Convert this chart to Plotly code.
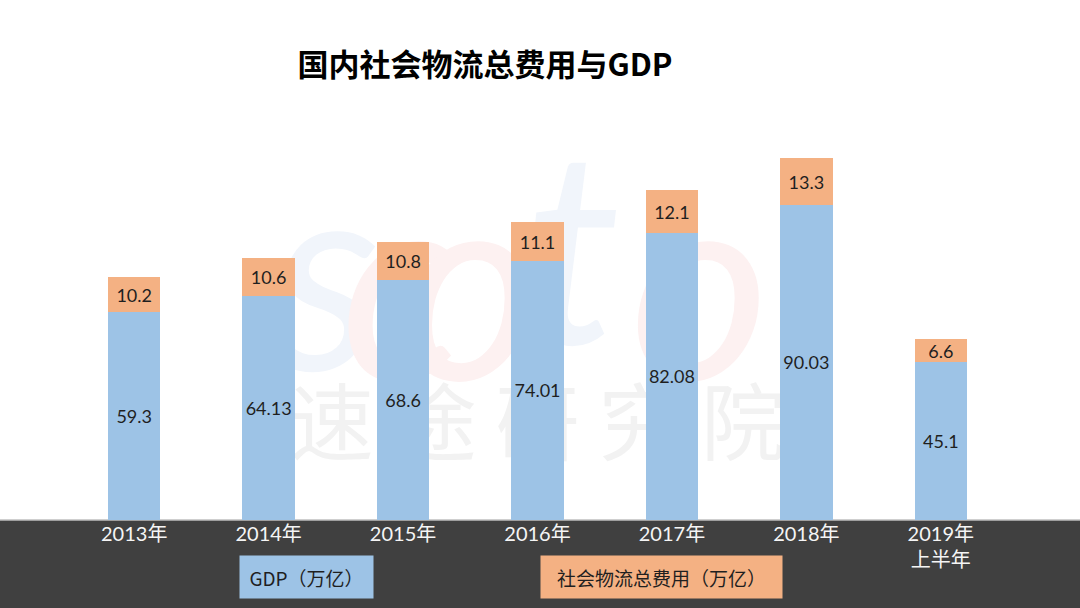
import plotly.graph_objects as go

categories = ["2013年", "2014年", "2015年", "2016年", "2017年", "2018年", "2019年<br>上半年"]
gdp = [59.3, 64.13, 68.6, 74.01, 82.08, 90.03, 45.1]
logistics = [10.2, 10.6, 10.8, 11.1, 12.1, 13.3, 6.6]
gdp_labels = ["59.3", "64.13", "68.6", "74.01", "82.08", "90.03", "45.1"]
log_labels = ["10.2", "10.6", "10.8", "11.1", "12.1", "13.3", "6.6"]

title_text = "国内社会物流总费用与GDP"
legend_gdp = "GDP（万亿）"
legend_log = "社会物流总费用（万亿）"

W, H = 1080, 608
ML, MR, MT, MB = 67, 72, 100, 88
PW, PH = W - ML - MR, H - MT - MB

def px_x(px):
    return (px - ML) / PW

def px_y(py):
    return (H - MB - py) / PH

BLUE = "#9DC3E6"
ORANGE = "#F4B183"
LABEL_FONT = dict(family="Lato, 'Noto Sans CJK SC', sans-serif", size=18, color="#1F1F1F")

fig = go.Figure()
fig.add_trace(go.Bar(
    x=categories, y=gdp, name=legend_gdp, marker=dict(color=BLUE, line=dict(width=0)),
    text=gdp_labels, textposition="inside", insidetextanchor="middle", textangle=0,
    textfont=LABEL_FONT, constraintext="none", hoverinfo="skip",
))
fig.add_trace(go.Bar(
    x=categories, y=logistics, name=legend_log, marker=dict(color=ORANGE, line=dict(width=0)),
    text=log_labels, textposition="inside", insidetextanchor="middle", textangle=0,
    textfont=LABEL_FONT, constraintext="none", hoverinfo="skip",
))

shapes = []
# dark band under the axis
shapes.append(dict(type="rect", xref="paper", yref="paper", x0=-0.2, x1=1.2,
                   y0=px_y(H + 5), y1=0, fillcolor="#404040", line=dict(width=0), layer="below"))
shapes.append(dict(type="line", xref="paper", yref="paper", x0=-0.2, x1=1.2,
                   y0=0, y1=0, line=dict(color="#BFBFBF", width=1.5), layer="below"))

# faint watermark
wm_letters = [("s", 327, 262, "#F1F5FB"), ("c", 402, 272, "#FDF1F1"), ("o", 470, 272, "#FDF1F1"),
              ("t", 573, 236, "#F1F5FB"), ("o", 700, 272, "#FDF1F1")]
for ch, cx, cy, col in wm_letters:
    shapes.append(dict(type="rect", xref="paper", yref="paper",
                       x0=px_x(cx - 60), x1=px_x(cx + 60), y0=px_y(cy + 60), y1=px_y(cy - 60),
                       line=dict(width=0), fillcolor="rgba(0,0,0,0)", layer="below",
                       label=dict(text=ch, font=dict(family="Lato, sans-serif", size=270, color=col, style="italic"),
                                  textposition="middle center")))
shapes.append(dict(type="rect", xref="paper", yref="paper",
                   x0=px_x(300), x1=px_x(775), y0=px_y(475), y1=px_y(385),
                   line=dict(width=0), fillcolor="rgba(0,0,0,0)", layer="below",
                   label=dict(text="速 途 研 究 院",
                              font=dict(family="'Noto Sans CJK SC', sans-serif", size=84, color="#F2F2F2"),
                              textposition="middle center")))

LEG_FONT = dict(family="'Noto Sans CJK SC', sans-serif", size=19, color="#1F1F1F")
annotations = [
    dict(text=legend_gdp, xref="paper", yref="paper", x=px_x(306.5), y=px_y(577),
         xanchor="center", yanchor="middle", showarrow=False, bgcolor=BLUE,
         width=133, height=42, borderpad=0, font=LEG_FONT),
    dict(text=legend_log, xref="paper", yref="paper", x=px_x(661.5), y=px_y(577),
         xanchor="center", yanchor="middle", showarrow=False, bgcolor=ORANGE,
         width=241, height=42, borderpad=0, font=LEG_FONT),
]

fig.update_layout(
    width=W, height=H,
    margin=dict(l=ML, r=MR, t=MT, b=MB),
    paper_bgcolor="white", plot_bgcolor="rgba(0,0,0,0)",
    barmode="stack", bargap=0.61,
    showlegend=False,
    title=dict(text=title_text, x=485 / W, xanchor="center", y=1 - 65 / H, yanchor="middle",
               xref="container", yref="container",
               font=dict(family="'Noto Sans CJK SC', sans-serif", size=31, color="#000000", weight="bold")),
    xaxis=dict(showgrid=False, zeroline=False, showline=False, ticks="",
               tickfont=dict(family="Lato, 'Noto Sans CJK SC', sans-serif", size=20, color="#F5F5F5"),
               fixedrange=True),
    yaxis=dict(range=[0, 120], visible=False, fixedrange=True),
    shapes=shapes,
    annotations=annotations,
)

fig.write_html("out.html", config=dict(displayModeBar=False),
               post_script="document.body.style.margin='0';document.body.style.overflow='hidden';")
